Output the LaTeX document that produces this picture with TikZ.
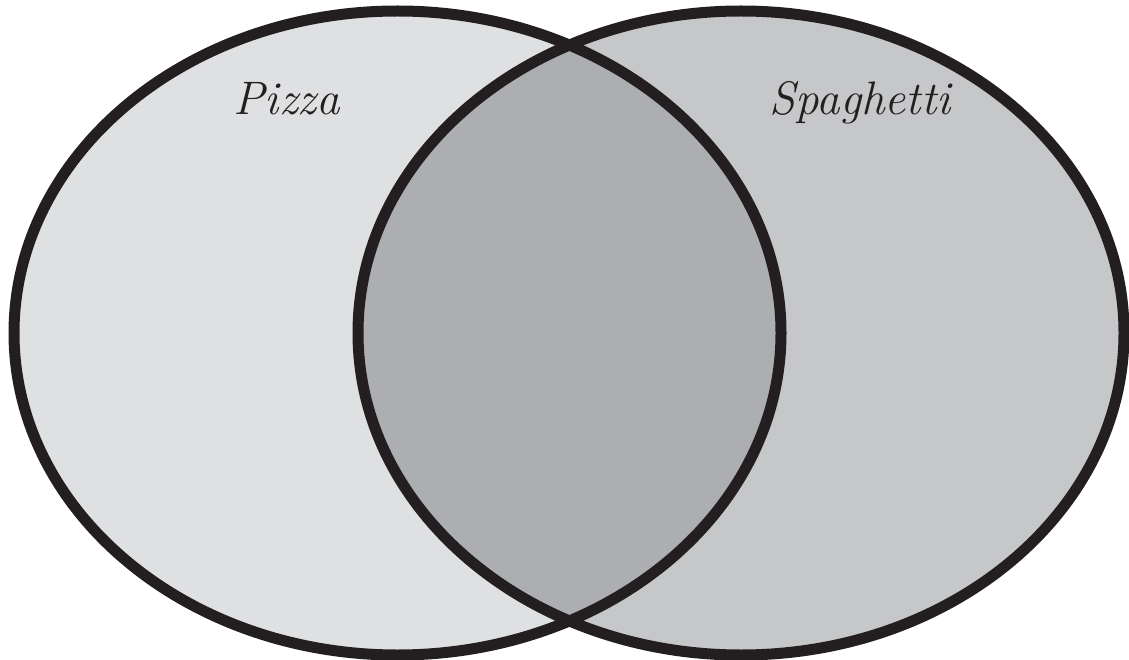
\documentclass[tikz,border=0pt]{standalone}
\usepackage{fontspec}
\definecolor{leftfill}{HTML}{DFE0E2}
\definecolor{rightfill}{HTML}{C6C7C9}
\definecolor{midfill}{HTML}{ADAEB1}
\definecolor{ink}{HTML}{231F20}
\begin{document}
\begin{tikzpicture}[x=1pt,y=-1pt,
  ring/.style={draw=ink,line width=11pt},
  label/.style={font=\fontsize{47}{50}\selectfont\itshape,text=ink,inner sep=0pt,anchor=base}]
\useasboundingbox (0,0) rectangle (1129,660);
\def\leftset{(397.5,333) ellipse [x radius=383.5, y radius=322]}
\def\rightset{(741,333) ellipse [x radius=383, y radius=322]}
\fill[leftfill] \leftset;
\fill[rightfill] \rightset;
\begin{scope}
  \clip \leftset;
  \fill[midfill] \rightset;
\end{scope}
\draw[ring] \leftset;
\draw[ring] \rightset;
\node[label] (pizza) at (287,115) {Pizza};
\node[label] (spaghetti) at (860,115) {Spaghett\kern0pt i};
\end{tikzpicture}
\end{document}
